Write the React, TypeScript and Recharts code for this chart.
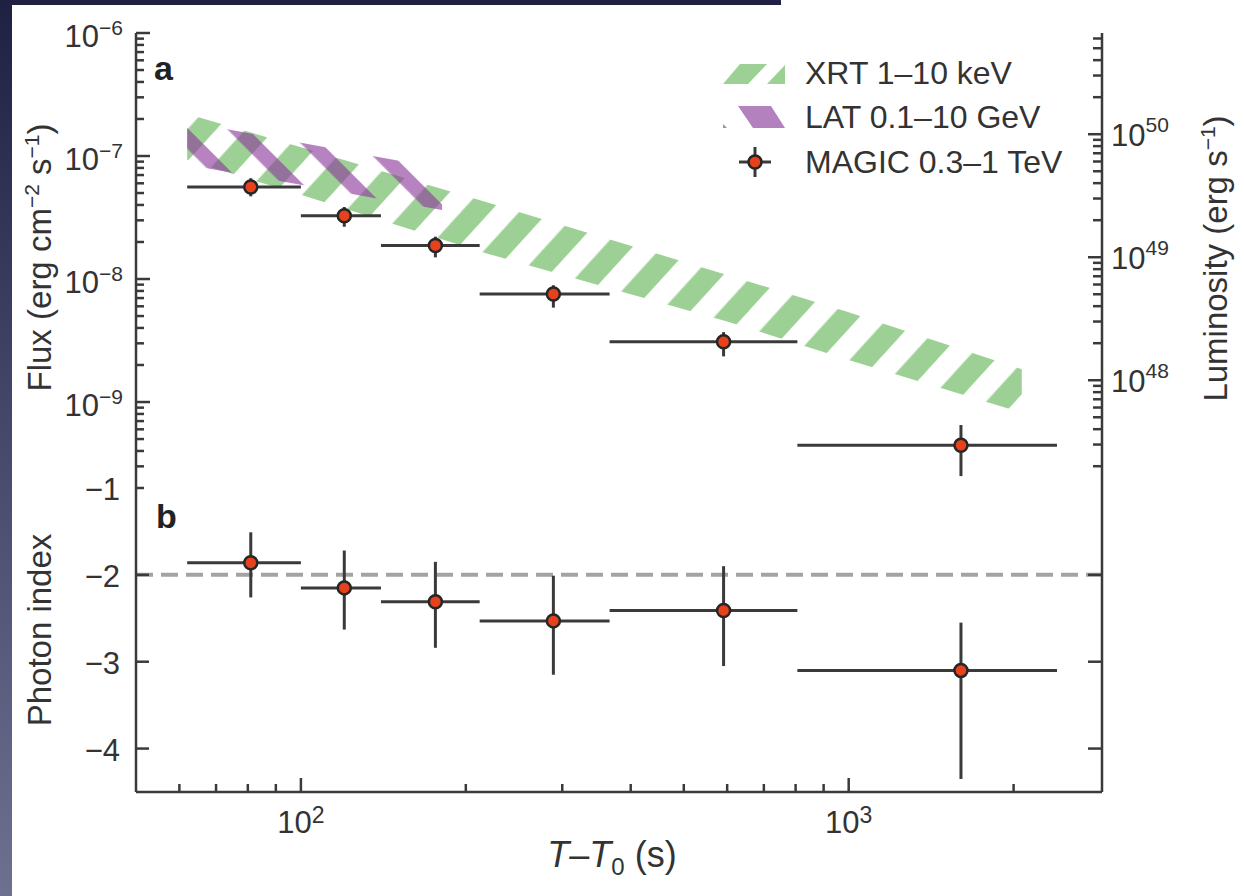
import React from 'react';
import { ComposedChart, Area, Scatter, ErrorBar, XAxis, YAxis, ReferenceLine, Legend } from 'recharts';

// MAGIC time bins (s after T0)
const magicTime = [81, 120, 176, 289, 591, 1603];
const binStart = [62, 100, 140, 212, 366, 806];
const binEnd = [100, 140, 212, 366, 806, 2400];

// panel a: MAGIC 0.3-1 TeV flux (erg cm-2 s-1)
const magicFlux = [5.6e-8, 3.27e-8, 1.87e-8, 7.55e-9, 3.09e-9, 4.45e-10];
const magicFluxLow = [4.7e-8, 2.66e-8, 1.5e-8, 5.85e-9, 2.35e-9, 2.5e-10];
const magicFluxHigh = [6.6e-8, 3.85e-8, 2.21e-8, 8.9e-9, 3.7e-9, 6.5e-10];

// panel b: photon index
const photonIndex = [-1.86, -2.15, -2.31, -2.53, -2.41, -3.1];
const photonIndexLow = [-2.26, -2.63, -2.84, -3.15, -3.05, -4.35];
const photonIndexHigh = [-1.51, -1.72, -1.85, -2.01, -1.9, -2.55];

// XRT 1-10 keV band
const xrtTime = [62, 100, 220, 600, 1000, 2070];
const xrtFluxLow = [9.3e-8, 4.84e-8, 1.6e-8, 4.52e-9, 2.2e-9, 8.2e-10];
const xrtFluxHigh = [2.2e-7, 1.18e-7, 4.17e-8, 1.08e-8, 5.37e-9, 1.85e-9];

// LAT 0.1-10 GeV band
const latTime = [62, 100, 140, 181];
const latFluxLow = [8.5e-8, 5.83e-8, 4.46e-8, 3.64e-8];
const latFluxHigh = [1.89e-7, 1.28e-7, 9.73e-8, 7.9e-8];

// axes
const TIME_DOMAIN = [50, 2900];
const FLUX_DOMAIN = [2e-10, 1e-6];
const LUM_PER_FLUX = 6.65e56;
const LUM_DOMAIN = [FLUX_DOMAIN[0] * LUM_PER_FLUX, FLUX_DOMAIN[1] * LUM_PER_FLUX];
const INDEX_DOMAIN = [-4.5, -1];
const timeTicks = [60, 70, 80, 90, 100, 200, 300, 400, 500, 600, 700, 800, 900, 1000, 2000];
const indexTicks = [-4, -3, -2, -1];
const mantissas = [1, 2, 3, 4, 5, 6, 7, 8, 9];

const logTicks = (lo: number, hi: number) => {
  const out: number[] = [];
  for (let e = Math.floor(Math.log10(lo)); e <= Math.ceil(Math.log10(hi)); e++) {
    mantissas.forEach((m) => {
      const v = m * Math.pow(10, e);
      if (v >= lo * 0.999 && v <= hi * 1.001) out.push(v);
    });
  }
  return out;
};
const fluxTicks = logTicks(FLUX_DOMAIN[0], FLUX_DOMAIN[1]);
const lumTicks = logTicks(LUM_DOMAIN[0], LUM_DOMAIN[1]);

const fluxPoints = magicTime.map((t, i) => ({
  t,
  flux: magicFlux[i],
  xErr: [t - binStart[i], binEnd[i] - t],
  yErr: [magicFlux[i] - magicFluxLow[i], magicFluxHigh[i] - magicFlux[i]],
}));
const indexPoints = magicTime.map((t, i) => ({
  t,
  index: photonIndex[i],
  xErr: [t - binStart[i], binEnd[i] - t],
  yErr: [photonIndex[i] - photonIndexLow[i], photonIndexHigh[i] - photonIndex[i]],
}));
const xrtData = xrtTime.map((t, i) => ({ t, range: [xrtFluxLow[i], xrtFluxHigh[i]] }));
const latData = latTime.map((t, i) => ({ t, range: [latFluxLow[i], latFluxHigh[i]] }));

const FONT = '"Liberation Sans", Arial, Helvetica, sans-serif';
const INK = '#333333';
const FRAME = '#3a3a3a';
const XRT_GREEN = '#9dd095';
const LAT_PURPLE = '#8c3d9c';
const MAGIC_RED = '#e8421c';
const TICK_FS = 31;
const SUP_FS = 21;
const TITLE_FS = 33;

const expOf = (v: number) => Math.round(Math.log10(v));
const isDecade = (v: number) => Math.abs(v / Math.pow(10, expOf(v)) - 1) < 1e-6;
const sup = (e: number) => (e < 0 ? '\u2212' + -e : String(e));
const axisLine = { stroke: FRAME, strokeWidth: 2.5 };

const fluxTick = (p: any) => {
  const v = p.payload.value;
  const major = isDecade(v);
  return (
    <g>
      <line x1={p.x} y1={p.y} x2={p.x + (major ? 14 : 8)} y2={p.y} stroke={FRAME} strokeWidth={2.5} />
      {major && (
        <text x={p.x - 13} y={p.y + 14} textAnchor="end" fontSize={TICK_FS} fill={INK}>
          10<tspan dy={-12} fontSize={SUP_FS}>{sup(expOf(v))}</tspan>
        </text>
      )}
    </g>
  );
};

const lumTick = (p: any) => {
  const v = p.payload.value;
  const major = isDecade(v);
  return (
    <g>
      <line x1={p.x} y1={p.y} x2={p.x - (major ? 14 : 9)} y2={p.y} stroke={FRAME} strokeWidth={2.5} />
      {major && (
        <text x={p.x + 9} y={p.y + 12} textAnchor="start" fontSize={TICK_FS} fill={INK}>
          10<tspan dy={-14} fontSize={SUP_FS}>{sup(expOf(v))}</tspan>
        </text>
      )}
    </g>
  );
};

const timeTickDown = (p: any) => {
  const major = isDecade(p.payload.value);
  return <line x1={p.x} y1={p.y} x2={p.x} y2={p.y + (major ? 14 : 8)} stroke={FRAME} strokeWidth={2.5} />;
};

const timeTickUp = (p: any) => {
  const major = isDecade(p.payload.value);
  return <line x1={p.x} y1={p.y} x2={p.x} y2={p.y - (major ? 14 : 8)} stroke={FRAME} strokeWidth={2.5} />;
};

const timeTickLabeled = (p: any) => {
  const v = p.payload.value;
  const major = isDecade(v);
  return (
    <g>
      <line x1={p.x} y1={p.y} x2={p.x} y2={p.y - (major ? 14 : 8)} stroke={FRAME} strokeWidth={2.5} />
      {major && (
        <text x={p.x} y={p.y + 41} textAnchor="middle" fontSize={TICK_FS} fill={INK}>
          10<tspan dy={-10} fontSize={23}>{sup(expOf(v))}</tspan>
        </text>
      )}
    </g>
  );
};

const indexTick = (p: any) => {
  const v = p.payload.value;
  return (
    <g>
      {v > -1 - 1e-9 ? null : <line x1={p.x} y1={p.y} x2={p.x + 13} y2={p.y} stroke={FRAME} strokeWidth={2.5} />}
      <text x={p.x - 16} y={p.y + 12} textAnchor="end" fontSize={TICK_FS} fill={INK}>
        {'\u2212' + -v}
      </text>
    </g>
  );
};

const indexTickRight = (p: any) => {
  const v = p.payload.value;
  if (v > -1 - 1e-9) return <g />;
  return <line x1={p.x} y1={p.y} x2={p.x - 14} y2={p.y} stroke={FRAME} strokeWidth={2.5} />;
};

const fluxTitle = (p: any) => {
  const vb = p.viewBox;
  const cx = 51;
  const cy = vb.y + vb.height / 2 - 3;
  return (
    <text x={cx} y={cy} transform={`rotate(-90, ${cx}, ${cy})`} textAnchor="middle" fontSize={TITLE_FS} fill={INK}>
      Flux (erg cm<tspan dy={-12} fontSize={SUP_FS}>{'\u22122'}</tspan>
      <tspan dy={12}> s</tspan>
      <tspan dy={-12} fontSize={SUP_FS}>{'\u22121'}</tspan>
      <tspan dy={12}>)</tspan>
    </text>
  );
};

const lumTitle = (p: any) => {
  const vb = p.viewBox;
  const cx = 1227;
  const cy = vb.y + vb.height / 2 - 2;
  return (
    <text x={cx} y={cy} transform={`rotate(-90, ${cx}, ${cy})`} textAnchor="middle" fontSize={TITLE_FS} fill={INK}>
      Luminosity (erg s<tspan dy={-12} fontSize={SUP_FS}>{'\u22121'}</tspan>
      <tspan dy={12}>)</tspan>
    </text>
  );
};

const indexTitle = (p: any) => {
  const vb = p.viewBox;
  const cx = 51;
  const cy = vb.y + vb.height / 2 - 10;
  return (
    <text x={cx} y={cy} transform={`rotate(-90, ${cx}, ${cy})`} textAnchor="middle" fontSize={TITLE_FS} fill={INK}>
      Photon index
    </text>
  );
};

const timeTitle = (p: any) => {
  const vb = p.viewBox;
  return (
    <text x={vb.x + vb.width / 2 - 7} y={vb.y + 75} textAnchor="middle" fontSize={36} fill={INK}>
      <tspan fontStyle="italic">T</tspan>
      {'\u2013'}
      <tspan fontStyle="italic">T</tspan>
      <tspan dy={8} fontSize={24}>0</tspan>
      <tspan dy={-8}>{'\u00a0(s)'}</tspan>
    </text>
  );
};

const magicDot = (p: any) => (
  <circle cx={p.cx} cy={p.cy} r={6.5} fill={MAGIC_RED} stroke="#262626" strokeWidth={2.5} />
);

const legendContent = () => (
  <svg width={1244} height={200} style={{ display: 'block', fontFamily: FONT }}>
    <polygon points="723,84 748,84 767,64 740,64" fill={XRT_GREEN} />
    <polygon points="767,84 785,84 785,65" fill={XRT_GREEN} />
    <text x={805} y={84} fontSize={32} fill={INK}>XRT 1–10 keV</text>
    <polygon points="738,106 771,106 785,128 753,128" fill="#b281be" />
    <polygon points="723,124 723,128 727,128" fill="#b281be" />
    <text x={805} y={128} fontSize={32} fill={INK}>LAT 0.1–10 GeV</text>
    <line x1={739} y1={162} x2={771} y2={162} stroke={FRAME} strokeWidth={3} />
    <line x1={755} y1={147} x2={755} y2={177} stroke={FRAME} strokeWidth={3} />
    <circle cx={755} cy={162} r={6.5} fill={MAGIC_RED} stroke="#262626" strokeWidth={2.5} />
    <text x={805} y={173} fontSize={32} fill={INK}>MAGIC 0.3–1 TeV</text>
  </svg>
);

const FluxPanel = () => (
  <ComposedChart width={1244} height={490} margin={{ top: 33, right: 0, bottom: 2, left: 0 }}>
    <defs>
      <pattern id="xrtHatch" patternUnits="userSpaceOnUse" width={43} height={43} patternTransform="rotate(42.3)">
        <rect x={10.6} y={0} width={21.5} height={43} fill={XRT_GREEN} />
      </pattern>
      <pattern id="latHatch" patternUnits="userSpaceOnUse" width={42} height={42} patternTransform="rotate(-45)">
        <rect x={27.3} y={0} width={21} height={42} fill={LAT_PURPLE} fillOpacity={0.64} />
      </pattern>
    </defs>
    <XAxis xAxisId="bottom" dataKey="t" type="number" scale="log" domain={TIME_DOMAIN} allowDataOverflow
      ticks={timeTicks} interval={0} height={0} tickSize={0} tickMargin={0} tick={timeTickUp}
      axisLine={axisLine} tickLine={false} />
    <XAxis xAxisId="top" orientation="top" dataKey="t" type="number" scale="log" domain={TIME_DOMAIN} allowDataOverflow
      ticks={timeTicks} interval={0} height={0} tickSize={0} tickMargin={0} tick={timeTickDown}
      axisLine={axisLine} tickLine={false} />
    <YAxis yAxisId="left" dataKey="flux" type="number" scale="log" domain={FLUX_DOMAIN} allowDataOverflow
      ticks={fluxTicks} interval={0} width={136} tickSize={0} tickMargin={0} tick={fluxTick}
      axisLine={axisLine} tickLine={false} label={fluxTitle} />
    <YAxis yAxisId="right" orientation="right" type="number" scale="log" domain={LUM_DOMAIN} allowDataOverflow
      ticks={lumTicks} interval={0} width={142} tickSize={0} tickMargin={0} tick={lumTick}
      axisLine={axisLine} tickLine={false} label={lumTitle} />
    <Area xAxisId="bottom" yAxisId="left" data={xrtData} dataKey="range" type="linear" stroke="none"
      fill="url(#xrtHatch)" fillOpacity={1} dot={false} activeDot={false} isAnimationActive={false} />
    <Area xAxisId="bottom" yAxisId="left" data={latData} dataKey="range" type="linear" stroke="none"
      fill="url(#latHatch)" fillOpacity={1} dot={false} activeDot={false} isAnimationActive={false} />
    <Scatter xAxisId="bottom" yAxisId="left" data={fluxPoints} shape={magicDot} isAnimationActive={false}>
      <ErrorBar dataKey="xErr" direction="x" width={0} stroke={FRAME} strokeWidth={3} />
      <ErrorBar dataKey="yErr" direction="y" width={0} stroke={FRAME} strokeWidth={3} />
    </Scatter>
    <text x={154} y={80} fontSize={34} fontWeight="bold" fill="#222">a</text>
    <Legend layout="horizontal" verticalAlign="middle" align="center" content={legendContent}
      wrapperStyle={{ left: 0, top: 0, width: 1244, height: 200 }} />
  </ComposedChart>
);

const IndexPanel = () => (
  <ComposedChart width={1244} height={436} margin={{ top: 28, right: 0, bottom: 0, left: 0 }}>
    <XAxis xAxisId="bottom" dataKey="t" type="number" scale="log" domain={TIME_DOMAIN} allowDataOverflow
      ticks={timeTicks} interval={0} height={104} tickSize={0} tickMargin={0} tick={timeTickLabeled}
      axisLine={axisLine} tickLine={false} label={timeTitle} />
    <YAxis yAxisId="left" dataKey="index" type="number" domain={INDEX_DOMAIN} allowDataOverflow
      ticks={indexTicks} interval={0} width={136} tickSize={0} tickMargin={0} tick={indexTick}
      axisLine={axisLine} tickLine={false} label={indexTitle} />
    <YAxis yAxisId="right" orientation="right" type="number" domain={INDEX_DOMAIN} allowDataOverflow
      ticks={indexTicks} interval={0} width={142} tickSize={0} tickMargin={0} tick={indexTickRight}
      axisLine={axisLine} tickLine={false} />
    <ReferenceLine xAxisId="bottom" yAxisId="left" y={-2} stroke="#a3a3a3" strokeWidth={4} strokeDasharray="17 8" />
    <Scatter xAxisId="bottom" yAxisId="left" data={indexPoints} shape={magicDot} isAnimationActive={false}>
      <ErrorBar dataKey="xErr" direction="x" width={0} stroke={FRAME} strokeWidth={3} />
      <ErrorBar dataKey="yErr" direction="y" width={0} stroke={FRAME} strokeWidth={3} />
    </Scatter>
    <text x={156} y={68} fontSize={34} fontWeight="bold" fill="#222">b</text>
  </ComposedChart>
);

export default function App() {
  return (
    <div style={{ position: 'absolute', left: 0, top: 0, width: 1244, height: 896, overflow: 'hidden',
      background: 'linear-gradient(180deg, #1f2142 0%, #3f4263 40%, #6e7090 100%)', fontFamily: FONT }}>
      <div style={{ position: 'absolute', left: 12, top: 5, width: 1232, height: 891, background: '#fff' }} />
      <div style={{ position: 'absolute', left: 781, top: 0, width: 463, height: 5, background: '#fff' }} />
      <div style={{ position: 'absolute', left: 0, top: 0 }}>
        <FluxPanel />
      </div>
      <div style={{ position: 'absolute', left: 0, top: 460 }}>
        <IndexPanel />
      </div>
    </div>
  );
}
